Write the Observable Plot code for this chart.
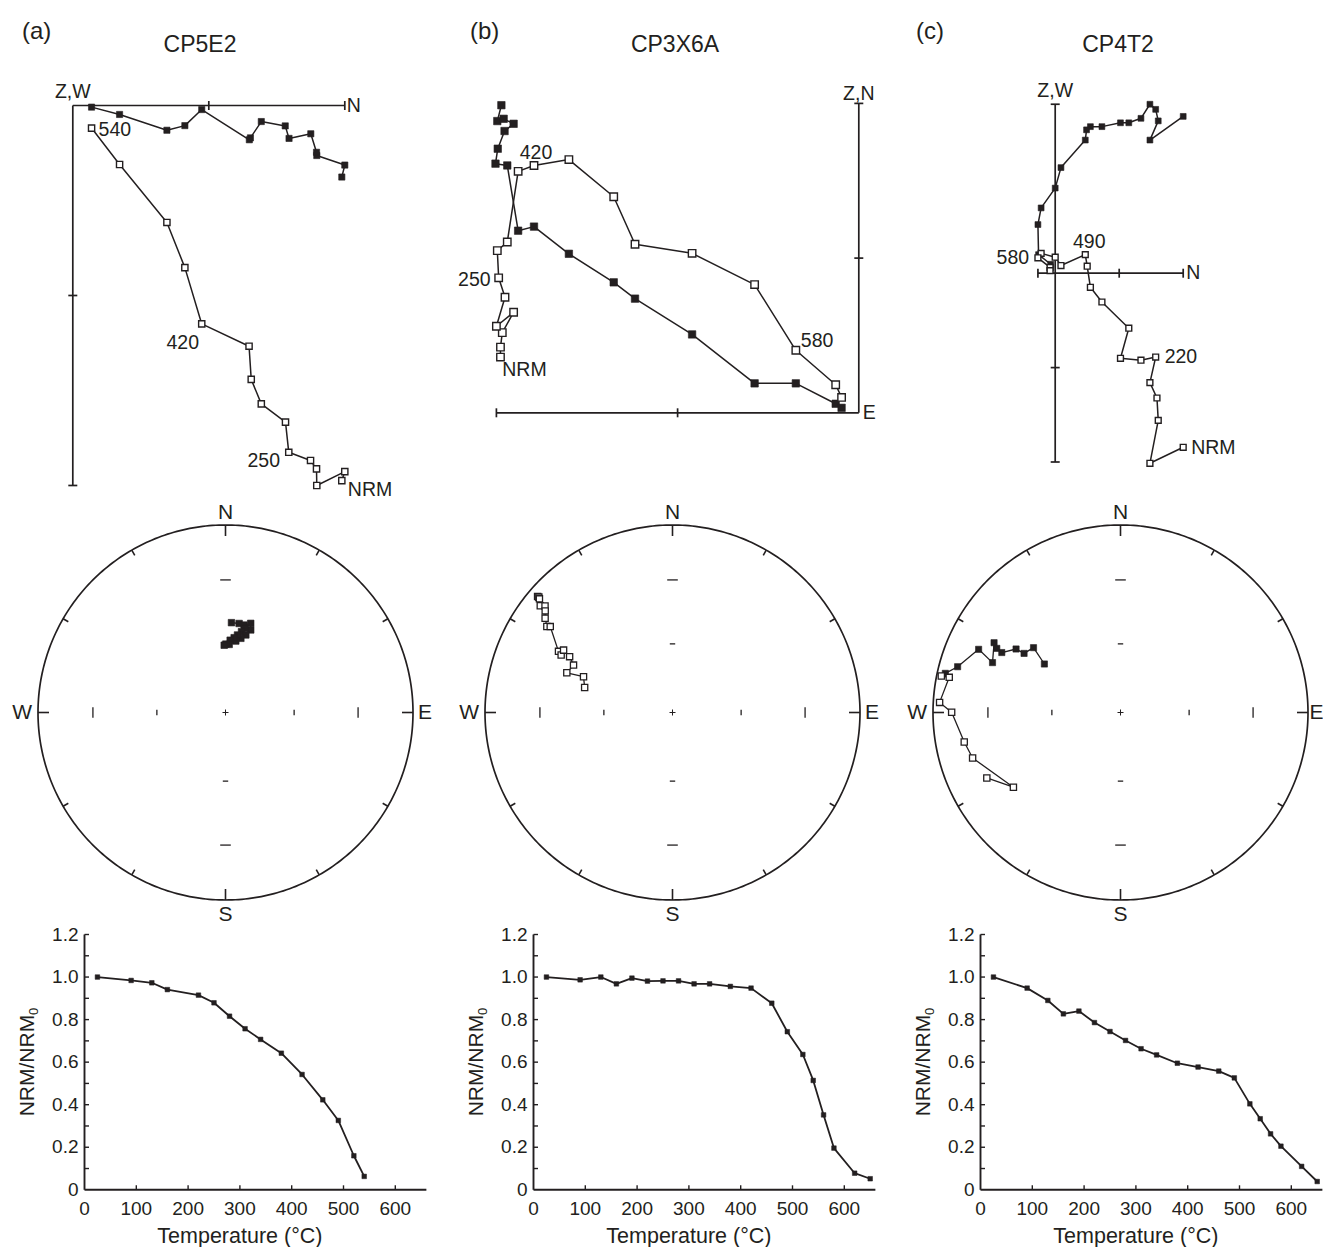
<!DOCTYPE html>
<html><head><meta charset="utf-8">
<script src="https://cdn.jsdelivr.net/npm/d3@7"></script>
<script src="https://cdn.jsdelivr.net/npm/@observablehq/plot@0.6"></script>
<style>
html,body{margin:0;padding:0;background:#fff;overflow:hidden}
#fig{position:relative;width:1323px;height:1247px;overflow:hidden;font-family:"Liberation Sans",Arial,Helvetica,sans-serif;color:#231f20}
.tag{position:absolute;font-size:24px;line-height:1;white-space:nowrap}
.title{position:absolute;font-size:23px;line-height:1;white-space:nowrap;transform:translateX(-50%)}
.ylab{position:absolute;font-size:21px;line-height:1;white-space:nowrap;transform:translate(-50%,-50%) rotate(-90deg)}
.ylab sub{font-size:13px;vertical-align:-4px;line-height:0}
</style></head>
<body><div id="fig"></div>
<script>
// ---------------- DATA ----------------
const titles = ["CP5E2", "CP3X6A", "CP4T2"];
const tags = ["(a)", "(b)", "(c)"];

// Zijderveld (a): N horizontal, vertical axis positive downward
const zaFillN = [9.89, 10.0, 8.97, 8.96, 8.75, 7.95, 7.81, 6.93, 6.53, 6.49, 4.74, 4.12, 3.46, 1.72, 0.69];
const zaFillW = [2.63, 2.19, 1.84, 1.72, 1.04, 1.21, 0.75, 0.59, 1.19, 1.26, 0.15, 0.74, 0.91, 0.33, 0.06];
const zaOpenN = [9.89, 10.0, 8.97, 8.96, 8.74, 7.94, 7.82, 6.93, 6.56, 6.48, 4.74, 4.12, 3.46, 1.72, 0.69];
const zaOpenZ = [13.79, 13.46, 13.97, 13.36, 13.05, 12.75, 11.64, 10.97, 10.07, 8.85, 8.03, 5.96, 4.30, 2.17, 0.83];

// Zijderveld (b): E horizontal, vertical axis positive upward
const zbFillE = [-7.89, -7.98, -7.84, -7.62, -7.82, -7.97, -8.02, -7.76, -7.52, -7.17, -6.40, -5.41, -4.94, -3.68, -2.30, -1.39, -0.51, -0.38];
const zbFillN = [6.79, 6.44, 6.49, 6.38, 6.22, 5.83, 5.50, 5.46, 4.02, 4.11, 3.51, 2.88, 2.52, 1.73, 0.65, 0.65, 0.20, 0.11];
const zbOpenE = [-7.91, -7.91, -7.87, -7.62, -8.00, -7.81, -7.95, -7.98, -7.76, -7.52, -7.17, -6.40, -5.41, -4.94, -3.68, -2.30, -1.39, -0.51, -0.38];
const zbOpenZ = [1.23, 1.45, 1.77, 2.22, 1.91, 2.55, 2.98, 3.58, 3.77, 5.33, 5.46, 5.59, 4.77, 3.72, 3.52, 2.83, 1.38, 0.62, 0.34];

// Zijderveld (c): N horizontal, vertical axis positive downward
const zcFillN = [2.0, 1.48, 1.61, 1.57, 1.48, 1.34, 1.15, 1.02, 0.73, 0.55, 0.49, 0.47, 0.09, 0.0, -0.22, -0.27, -0.26, -0.07, -0.08];
const zcFillW = [-2.45, -2.08, -2.38, -2.56, -2.64, -2.42, -2.35, -2.35, -2.29, -2.29, -2.24, -2.08, -1.65, -1.33, -1.02, -0.76, -0.29, -0.14, -0.05];
const zcOpenN = [2.0, 1.48, 1.61, 1.59, 1.48, 1.57, 1.34, 1.02, 1.15, 0.73, 0.55, 0.50, 0.47, 0.09, 0.0, -0.22, -0.27, -0.08, -0.08];
const zcOpenZ = [2.72, 2.97, 2.30, 1.95, 1.71, 1.31, 1.36, 1.33, 0.86, 0.45, 0.22, -0.11, -0.29, -0.12, -0.25, -0.31, -0.24, -0.09, -0.04];

// Equal-area stereonets: declination / inclination (negative = upper hemisphere, open)
const saDec = [3.8, 8.7, 12.0, 15.8, 17.0, 12.9, 11.2, 14.7, 11.7, 8.8, 8.2, 6.6, 3.7, 3.1, 0.3, 358.9];
const saInc = [50.3, 50.3, 50.6, 49.1, 52.0, 52.0, 53.8, 54.8, 56.8, 55.6, 58.4, 57.0, 58.3, 60.2, 60.1, 60.6];
const sbDec = [310.7, 310.8, 310.5, 308.9, 309.9, 308.6, 306.5, 304.4, 305.1, 298.2, 297.3, 299.8, 298.5, 295.6, 290.6, 291.9, 285.9];
const sbInc = [-5.7, -6.5, -7.4, -10.3, -12.4, -14.2, -16.6, -19.9, -21.4, -31.6, -33.6, -33.5, -37.6, -41.1, -39.6, -47.6, -49.7];
const scDec = [302.5, 306.7, 301.5, 301.3, 296.8, 297.4, 298.9, 291.3, 294.0, 285.7, 282.6, 281.5, 281.6, 273.2, 270.1, 259.3, 252.9, 235.1, 243.9];
const scInc = [50.2, 41.7, 39.5, 35.1, 29.8, 26.6, 24.0, 27.6, 18.3, 10.7, 4.8, -2.8, -7.5, -3.8, -10.9, -16.3, -18.6, -31.0, -21.7];

// Thermal demagnetisation curves
const dTempA = [25, 90, 130, 160, 220, 250, 280, 310, 340, 380, 420, 460, 490, 520, 540];
const dNrmA = [1.0, 0.984, 0.973, 0.941, 0.915, 0.879, 0.816, 0.757, 0.707, 0.642, 0.542, 0.423, 0.326, 0.16, 0.063];
const dTempB = [25, 90, 130, 160, 190, 220, 250, 280, 310, 340, 380, 420, 460, 490, 520, 540, 560, 580, 620, 650];
const dNrmB = [1.0, 0.987, 1.0, 0.968, 0.995, 0.981, 0.982, 0.982, 0.968, 0.968, 0.956, 0.948, 0.877, 0.743, 0.636, 0.514, 0.352, 0.196, 0.078, 0.052];
const dTempC = [25, 90, 130, 160, 190, 220, 250, 280, 310, 340, 380, 420, 460, 490, 520, 540, 560, 580, 620, 650];
const dNrmC = [1.0, 0.948, 0.890, 0.827, 0.840, 0.786, 0.744, 0.702, 0.663, 0.634, 0.595, 0.577, 0.558, 0.526, 0.404, 0.334, 0.263, 0.205, 0.110, 0.039];

const xTickVals = [0, 100, 200, 300, 400, 500, 600];
const yTickVals = [0, 0.2, 0.4, 0.6, 0.8, 1.0, 1.2];

// ---------------- DRAWING ----------------
const INK = "#231f20";
const FONT = '"Liberation Sans", Arial, Helvetica, sans-serif';
const fig = document.getElementById("fig");
const rad = Math.PI / 180;

function put(node, left, top) {
  node.style.position = "absolute";
  node.style.left = left + "px";
  node.style.top = top + "px";
  fig.appendChild(node);
}

function frame(width, height, xDom, yDom, marks) {
  return Plot.plot({
    width, height, margin: 0,
    x: {domain: xDom, range: [0, width], axis: null},
    y: {domain: yDom, range: [0, height], axis: null},
    style: {fontFamily: FONT, fontSize: "19px", color: INK, background: "transparent", overflow: "visible"},
    marks
  });
}

function zijder(p) {
  const {left, top, width, height, ox, oy, k, ys} = p;
  const xDom = [(left - ox) / k, (left + width - ox) / k];
  const yDom = [(top - oy) / (ys * k), (top + height - oy) / (ys * k)];
  const h = 4.5 / k;
  const fillPts = p.fillX.map((x, i) => ({x, y: p.fillY[i]}));
  const openPts = p.openX.map((x, i) => ({x, y: p.openY[i]}));
  const marks = [
    Plot.link([p.hAxis], {x1: d => d[0], x2: d => d[1], y1: 0, y2: 0, stroke: INK, strokeWidth: 1.7}),
    Plot.link([p.vAxis], {y1: d => d[0], y2: d => d[1], x1: 0, x2: 0, stroke: INK, strokeWidth: 1.7}),
    Plot.link(p.hTicks, {x1: d => d, x2: d => d, y1: -h, y2: h, stroke: INK, strokeWidth: 1.7}),
    Plot.link(p.vTicks, {y1: d => d, y2: d => d, x1: -h, x2: h, stroke: INK, strokeWidth: 1.7}),
    Plot.line(fillPts, {x: "x", y: "y", stroke: INK, strokeWidth: 1.5}),
    Plot.line(openPts, {x: "x", y: "y", stroke: INK, strokeWidth: 1.5}),
    Plot.dot(fillPts, {x: "x", y: "y", symbol: "square", r: p.r, fill: INK, stroke: INK, strokeWidth: 0.6}),
    Plot.dot(openPts, {x: "x", y: "y", symbol: "square", r: p.r, fill: "white", stroke: INK, strokeWidth: 1.4}),
    ...p.labels.map(l => Plot.text([l], {x: l.x, y: l.y, text: d => d.text, dx: l.dx, dy: l.dy,
      textAnchor: l.anchor || "middle", fill: INK, fontSize: 19.5}))
  ];
  put(frame(width, height, xDom, yDom, marks), left, top);
}

function stereo(p) {
  const R = 187.5, S = 228;
  const size = 2 * S;
  const rEA = inc => Math.SQRT2 * Math.sin((90 - Math.abs(inc)) / 2 * rad);
  const pts = p.dec.map((dec, i) => ({dec, inc: p.inc[i]}));
  const px = d => rEA(d.inc) * Math.sin(d.dec * rad);
  const py = d => rEA(d.inc) * Math.cos(d.dec * rad);
  const circle = d3.range(0, 361, 1);
  const rim = d3.range(0, 360, 30);
  const rimLen = a => (a % 90 === 0 ? 11 : 6) / R;
  const inner = [];
  for (const az of [0, 90, 180, 270]) for (const inc of [30, 60]) inner.push({az, r: rEA(inc), half: (inc === 30 ? 5.3 : 2.7) / R});
  const c = 3 / R;
  const card = [
    {t: "N", x: 0, y: 1, dx: 0, dy: -13, a: "middle"},
    {t: "S", x: 0, y: -1, dx: 0, dy: 14, a: "middle"},
    {t: "W", x: -1, y: 0, dx: -6, dy: 0, a: "end"},
    {t: "E", x: 1, y: 0, dx: p.eDx, dy: 0, a: "start"}
  ];
  const marks = [
    Plot.line(circle, {x: a => Math.sin(a * rad), y: a => Math.cos(a * rad), stroke: INK, strokeWidth: 1.7}),
    Plot.link(rim, {x1: a => Math.sin(a * rad), y1: a => Math.cos(a * rad),
      x2: a => (1 - rimLen(a)) * Math.sin(a * rad), y2: a => (1 - rimLen(a)) * Math.cos(a * rad), stroke: INK, strokeWidth: 1.6}),
    Plot.link(inner, {x1: d => d.r * Math.sin(d.az * rad) - d.half * Math.cos(d.az * rad),
      y1: d => d.r * Math.cos(d.az * rad) + d.half * Math.sin(d.az * rad),
      x2: d => d.r * Math.sin(d.az * rad) + d.half * Math.cos(d.az * rad),
      y2: d => d.r * Math.cos(d.az * rad) - d.half * Math.sin(d.az * rad), stroke: INK, strokeWidth: 1.3}),
    Plot.link([{x1: -c, y1: 0, x2: c, y2: 0}, {x1: 0, y1: -c, x2: 0, y2: c}], {x1: "x1", y1: "y1", x2: "x2", y2: "y2", stroke: INK, strokeWidth: 1}),
    ...card.map(d => Plot.text([d], {x: "x", y: "y", text: "t", dx: d.dx, dy: d.dy, textAnchor: d.a, fill: INK, fontSize: 21})),
    Plot.line(pts, {x: px, y: py, stroke: INK, strokeWidth: 1.3}),
    Plot.dot(pts, {filter: d => d.inc >= 0, x: px, y: py, symbol: "square", r: p.r, fill: INK, stroke: INK, strokeWidth: 0.6}),
    Plot.dot(pts, {filter: d => d.inc < 0, x: px, y: py, symbol: "square", r: p.r, fill: "white", stroke: INK, strokeWidth: 1.3})
  ];
  put(frame(size, size, [-S / R, S / R], [S / R, -S / R], marks), p.cx - S, p.cy - S);
}

function decay(p) {
  const kx = 0.518, top = 915, height = 332, width = 440, off = 72;
  const left = p.x0 - off;
  const ky = (1189.3 - 934) / 1.2;
  const xDom = [-off / kx, (width - off) / kx];
  const yDom = [(1189.3 - top) / ky, (1189.3 - top - height) / ky];
  const pts = p.temps.map((t, i) => ({t, v: p.vals[i]}));
  const tx = 4.5 / kx, ty = 4.5 / ky;
  const yMinor = d3.range(1, 13).map(i => i / 10);
  const marks = [
    Plot.link([[0, 660]], {x1: d => d[0], x2: d => d[1], y1: 0, y2: 0, stroke: INK, strokeWidth: 1.9}),
    Plot.link([[0, 1.2]], {y1: d => d[0], y2: d => d[1], x1: 0, x2: 0, stroke: INK, strokeWidth: 1.9}),
    Plot.link(yMinor, {y1: d => d, y2: d => d, x1: 0, x2: tx, stroke: INK, strokeWidth: 1.4}),
    Plot.link(xTickVals.slice(1), {x1: d => d, x2: d => d, y1: 0, y2: ty, stroke: INK, strokeWidth: 1.4}),
    Plot.text(yTickVals, {x: 0, y: d => d, text: d => d === 0 ? "0" : d.toFixed(1), dx: -6, textAnchor: "end", fill: INK, fontSize: 19}),
    Plot.text(xTickVals, {x: d => d, y: 0, text: d => String(d), dy: 19, fill: INK, fontSize: 19}),
    Plot.text(["Temperature (°C)"], {x: 300, y: 0, text: d => d, dy: 46, fill: INK, fontSize: 21.5}),
    Plot.line(pts, {x: "t", y: "v", stroke: INK, strokeWidth: 1.8}),
    Plot.dot(pts, {x: "t", y: "v", symbol: "square", r: 2.6, fill: INK, stroke: INK, strokeWidth: 0.5})
  ];
  put(frame(width, height, xDom, yDom, marks), left, top);
  const yl = document.createElement("div");
  yl.className = "ylab";
  yl.innerHTML = "NRM/NRM<sub>0</sub>";
  put(yl, p.x0 - 58, 1062);
}

// ---- Zijderveld panels ----
zijder({
  left: 20, top: 60, width: 400, height: 450, ox: 72.3, oy: 105, k: 27.2, ys: 1, r: 3.5,
  fillX: zaFillN, fillY: zaFillW, openX: zaOpenN, openY: zaOpenZ,
  hAxis: [0, 10], hTicks: [5, 10], vAxis: [0, 13.97], vTicks: [6.985, 13.97],
  labels: [
    {text: "Z,W", x: 0, y: 0, dx: 0, dy: -14},
    {text: "N", x: 10, y: 0, dx: 2, dy: 0, anchor: "start"},
    {text: "540", x: zaOpenN[14], y: zaOpenZ[14], dx: 7, dy: 2, anchor: "start"},
    {text: "420", x: zaOpenN[10], y: zaOpenZ[10], dx: -19, dy: 19},
    {text: "250", x: zaOpenN[5], y: zaOpenZ[5], dx: -25, dy: 8},
    {text: "NRM", x: zaOpenN[0], y: zaOpenZ[0], dx: 6, dy: 9, anchor: "start"}
  ]
});
zijder({
  left: 440, top: 70, width: 450, height: 370, ox: 858.3, oy: 412.3, k: 45.3, ys: -1, r: 4.2,
  fillX: zbFillE, fillY: zbFillN, openX: zbOpenE, openY: zbOpenZ,
  hAxis: [-8, 0], hTicks: [-8, -4], vAxis: [0, 6.83], vTicks: [3.415, 6.83],
  labels: [
    {text: "Z,N", x: 0, y: 6.83, dx: 0, dy: -10},
    {text: "E", x: 0, y: 0, dx: 4, dy: 0, anchor: "start"},
    {text: "NRM", x: zbOpenE[0], y: zbOpenZ[0], dx: 24, dy: 13},
    {text: "250", x: zbOpenE[6], y: zbOpenZ[6], dx: -8, dy: 2, anchor: "end"},
    {text: "420", x: zbOpenE[10], y: zbOpenZ[10], dx: 2, dy: -13},
    {text: "580", x: zbOpenE[16], y: zbOpenZ[16], dx: 5, dy: -10, anchor: "start"}
  ]
});
zijder({
  left: 960, top: 70, width: 360, height: 420, ox: 1054.7, oy: 272.7, k: 64, ys: 1, r: 3.3,
  fillX: zcFillN, fillY: zcFillW, openX: zcOpenN, openY: zcOpenZ,
  hAxis: [-0.27, 2.0], hTicks: [-0.27, 1.0, 2.0], vAxis: [-2.64, 2.95], vTicks: [-2.64, 1.475, 2.95],
  labels: [
    {text: "Z,W", x: 0, y: -2.64, dx: 0, dy: -13},
    {text: "N", x: 2.0, y: 0, dx: 3, dy: 0, anchor: "start"},
    {text: "NRM", x: zcOpenN[0], y: zcOpenZ[0], dx: 8, dy: 0, anchor: "start"},
    {text: "220", x: zcOpenN[5], y: zcOpenZ[5], dx: 9, dy: 0, anchor: "start"},
    {text: "490", x: zcOpenN[12], y: zcOpenZ[12], dx: 4, dy: -13},
    {text: "580", x: zcOpenN[15], y: zcOpenZ[15], dx: -12, dy: 4, anchor: "end"}
  ]
});

// ---- Stereonets ----
stereo({cx: 224.5, cy: 711.5, dec: saDec, inc: saInc, r: 3.7, eDx: 5});
stereo({cx: 672, cy: 712, dec: sbDec, inc: sbInc, r: 3.5, eDx: 5});
stereo({cx: 1119.5, cy: 711.5, dec: scDec, inc: scInc, r: 3.5, eDx: 1.5});

// ---- Decay curves ----
decay({x0: 84.3, temps: dTempA, vals: dNrmA});
decay({x0: 532.7, temps: dTempB, vals: dNrmB});
decay({x0: 980, temps: dTempC, vals: dNrmC});

// ---- Titles ----
const tagX = [22, 470, 916];
const titleX = [200, 675, 1118];
tags.forEach((t, i) => { const d = document.createElement("div"); d.className = "tag"; d.textContent = t; put(d, tagX[i], 19); });
titles.forEach((t, i) => { const d = document.createElement("div"); d.className = "title"; d.textContent = t; put(d, titleX[i], 33); });
</script>
</body></html>
